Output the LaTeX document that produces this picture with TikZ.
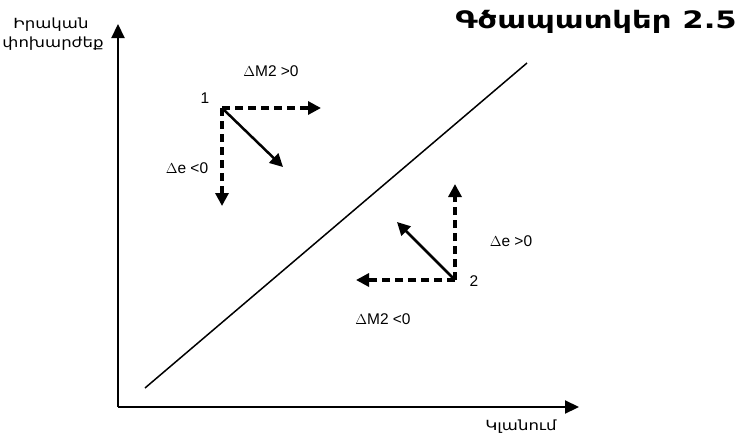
\documentclass[tikz,border=0pt]{standalone}
\usepackage{fontspec}
\setmainfont{Liberation Sans}
\newfontfamily\armfont[FakeStretch=1.18]{DejaVu Sans}
\newfontfamily\armtitle[FakeStretch=1.28]{DejaVu Sans}
\usetikzlibrary{arrows.meta}
\begin{document}
\begin{tikzpicture}[x=1pt,y=-1pt,
  axis/.style={line width=2.2pt,-{Triangle[length=14pt,width=13pt]}},
  dasharrow/.style={line width=3.2pt,dash pattern=on 8pt off 5pt,-{Triangle[length=13pt,width=13pt]}},
  solidarrow/.style={line width=2.5pt,-{Triangle[length=13pt,width=13pt]}},
  lbl/.style={font=\fontsize{15.5pt}{18pt}\selectfont,inner sep=0pt},
  armlbl/.style={font=\armfont\fontsize{14pt}{16pt}\selectfont,inner sep=0pt}]
\useasboundingbox (0,0) rectangle (740,440);
\fill[white] (0,0) rectangle (740,440);
% axes
\coordinate (O) at (118,407);
\coordinate (Ytop) at (118,24);
\coordinate (Xend) at (579,407);
\draw[axis] (O) -- (Ytop);
\draw[axis] (O) -- (Xend);
% diagonal line
\coordinate (D1) at (145,388);
\coordinate (D2) at (527,63);
\draw[line width=1.5pt] (D1) -- (D2);
% point 1
\coordinate (P1) at (222,108);
\coordinate (P1r) at (321,108);
\coordinate (P1d) at (222,206);
\coordinate (P1s) at (283,167);
\draw[dasharrow] (P1) -- (P1r);
\draw[dasharrow] (P1) -- (P1d);
\draw[solidarrow] (P1) -- (P1s);
% point 2
\coordinate (P2) at (455,280);
\coordinate (P2u) at (455,184);
\coordinate (P2l) at (356,280);
\coordinate (P2s) at (397,222);
\draw[dasharrow] (P2) -- (P2u);
\draw[dasharrow] (P2) -- (P2l);
\draw[solidarrow] (P2) -- (P2s);
% labels
\node[lbl] (n1) at (205,98) {1};
\node[lbl] (n2) at (474,281) {2};
\node[lbl] (dm1) at (271,71) {$\Delta$M2 >0};
\node[lbl] (de1) at (187,168) {$\Delta$e <0};
\node[lbl] (de2) at (511,241) {$\Delta$e >0};
\node[lbl] (dm2) at (383,319) {$\Delta$M2 <0};
\node[armlbl] (ylab1) at (51,25) {Իրական};
\node[armlbl] (ylab2) at (53,44) {փոխարժեք};
\node[armlbl] (xlab) at (521,427) {Կլանում};
\node[font=\armtitle\bfseries\fontsize{24pt}{28pt}\selectfont,inner sep=0pt,anchor=base east] (title) at (737,28) {Գծապատկեր 2.5};
\end{tikzpicture}
\end{document}
